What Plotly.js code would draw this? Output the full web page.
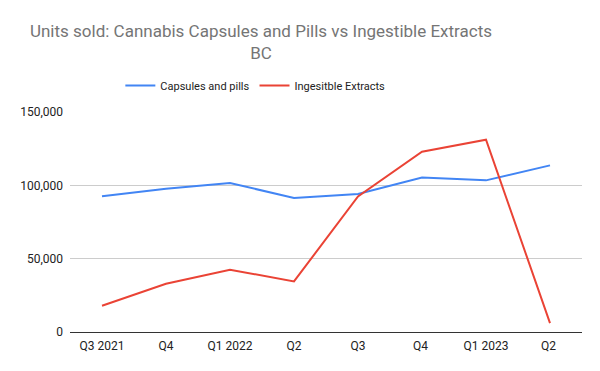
<!DOCTYPE html>
<html>
<head>
<meta charset="utf-8">
<script src="https://cdn.plot.ly/plotly-3.0.1.min.js"></script>
<style>html,body{margin:0;padding:0;background:#fff;}#chart{width:600px;height:371px;}</style>
</head>
<body>
<div id="chart"></div>
<script>
const quarters = ["Q3 2021", "Q4", "Q1 2022", "Q2", "Q3", "Q4 ", "Q1 2023", "Q2 "];
const capsulesPills = [92500, 97700, 101600, 91400, 94100, 105400, 103400, 113600];
const ingestibleExtracts = [17900, 32900, 42500, 34500, 92400, 122900, 131100, 6100];
const yTicks = [0, 50000, 100000, 150000];
const yTickLabels = ["0", "50,000", "100,000", "150,000"];

const traces = [
  {x: quarters, y: capsulesPills, type: "scatter", mode: "lines", name: "Capsules and pills",
   line: {color: "#4285F4", width: 2}},
  {x: quarters, y: ingestibleExtracts, type: "scatter", mode: "lines", name: "Ingesitble Extracts",
   line: {color: "#EA4335", width: 2}}
];

const layout = {
  width: 600, height: 371,
  margin: {l: 70, r: 18, t: 112, b: 39},
  paper_bgcolor: "#fff", plot_bgcolor: "#fff",
  font: {family: "Roboto, Arial, sans-serif", size: 12, color: "#222"},
  title: {text: "Units sold: Cannabis Capsules and Pills vs Ingestible Extracts<br>BC",
          font: {size: 17, color: "#757575"}, x: 0.435, xanchor: "center", xref: "container",
          y: 0.9, yanchor: "top"},
  showlegend: true,
  legend: {orientation: "h", x: 0.362, xanchor: "center", y: 1.12, yanchor: "middle",
           font: {size: 11, color: "#222"}, itemwidth: 30, tracegroupgap: 0},
  xaxis: {type: "category", range: [-0.5, 7.5], showgrid: false, zeroline: false,
          showline: false, ticks: "", ticklabelstandoff: 5, tickfont: {size: 12, color: "#222"}, fixedrange: true},
  yaxis: {range: [0, 150000], tickvals: yTicks, ticktext: yTickLabels,
          showgrid: true, gridcolor: "#cccccc", gridwidth: 1, zeroline: true,
          zerolinecolor: "#333", zerolinewidth: 1, ticks: "", ticklen: 0, ticklabelstandoff: 6,
          tickfont: {size: 12, color: "#222"}, fixedrange: true}
};

Plotly.newPlot("chart", traces, layout, {displayModeBar: false, staticPlot: true});
</script>
</body>
</html>
